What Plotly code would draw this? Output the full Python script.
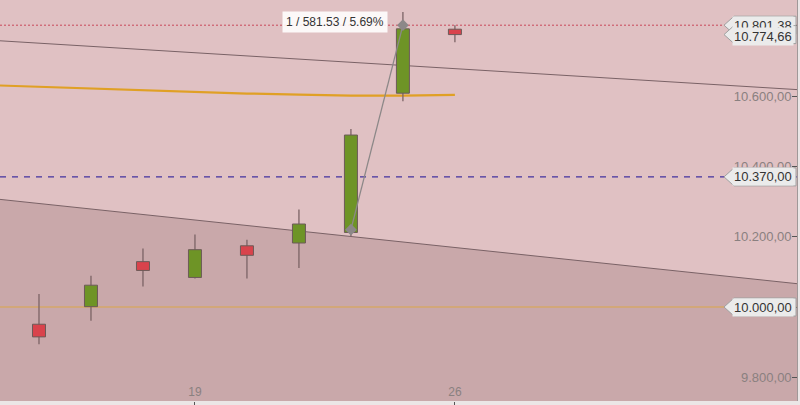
import plotly.graph_objects as go

# ---- data ----
days = ["14", "15", "16", "19", "20", "21", "22", "23", "26"]
opens = [9951, 10001, 10129, 10084, 10174, 10182, 10212, 10608, 10790]
highs = [10037, 10089, 10166, 10206, 10191, 10277, 10506, 10839, 10801.38]
lows = [9894, 9961, 10058, 10081, 10081, 10111, 10201, 10585, 10753]
closes = [9915, 10062, 10104, 10163, 10147, 10236, 10489, 10791, 10774.66]

ma_x = [-1, 0, 1, 2, 3, 4, 5, 6, 7, 8]
ma_vals = [10631, 10626, 10620, 10615, 10611, 10607, 10604, 10601, 10601, 10603]

upper_trend_x = [-0.75, 14.6]
upper_trend_y = [10757, 10618]
lower_trend_x = [-0.75, 14.6]
lower_trend_y = [10306, 10066]

level_high = 10801.38
level_last = 10774.66
level_blue = 10370.00
level_round = 10000.00

measure_x = [6, 7]
measure_y = [10219.85, 10801.38]
measure_text = "1 / 581.53 / 5.69%"

y_ticks = [9800, 10000, 10200, 10400, 10600, 10800]
x_tick_vals = [3, 8]
x_tick_text = ["19", "26"]


def eu(v):
    s = f"{v:,.2f}"
    return s.replace(",", "X").replace(".", ",").replace("X", ".")


X_RANGE = [-0.75, 14.58]
Y_RANGE = [9732.7, 10873]
BODY_HALF = 0.125

fig = go.Figure()

# lower shaded channel area
fig.add_trace(go.Scatter(x=lower_trend_x, y=lower_trend_y, mode="lines",
                         line=dict(color="#7a6266", width=1),
                         fill="tozeroy", fillcolor="#c9a8aa", hoverinfo="skip"))
fig.add_trace(go.Scatter(x=upper_trend_x, y=upper_trend_y, mode="lines",
                         line=dict(color="#7a6266", width=1), hoverinfo="skip"))

# horizontal levels
fig.add_trace(go.Scatter(x=[X_RANGE[0], X_RANGE[1]], y=[level_round] * 2, mode="lines",
                         line=dict(color="#dca548", width=1.2)))
fig.add_trace(go.Scatter(x=[X_RANGE[0], X_RANGE[1]], y=[level_blue] * 2, mode="lines",
                         line=dict(color="#4232a0", width=1.2, dash="6px,6px")))
fig.add_trace(go.Scatter(x=[X_RANGE[0], X_RANGE[1]], y=[level_high] * 2, mode="lines",
                         line=dict(color="#c8485a", width=1, dash="2px,2px")))

# moving average
fig.add_trace(go.Scatter(x=ma_x, y=ma_vals, mode="lines",
                         line=dict(color="#e0a025", width=2.2)))

# wicks
wx, wy = [], []
for i in range(len(days)):
    wx += [i, i, None]
    wy += [lows[i], highs[i], None]
fig.add_trace(go.Scatter(x=wx, y=wy, mode="lines",
                         line=dict(color="#7b6365", width=1.3)))

# bodies (closed polygons built from open/close values)
for up, col in [(True, "#6e9426"), (False, "#d9434c")]:
    bx, by = [], []
    for i in range(len(days)):
        if (closes[i] >= opens[i]) == up:
            o, c = opens[i], closes[i]
            bx += [i - BODY_HALF, i + BODY_HALF, i + BODY_HALF, i - BODY_HALF, i - BODY_HALF, None]
            by += [o, o, c, c, o, None]
    fig.add_trace(go.Scatter(x=bx, y=by, mode="lines", fill="toself", fillcolor=col,
                             line=dict(color="#6c5a58", width=1)))

# measurement tool
fig.add_trace(go.Scatter(x=measure_x, y=measure_y, mode="lines+markers",
                         line=dict(color="#8c8888", width=1.3),
                         marker=dict(symbol="diamond", size=9, color="#8c8888")))
fig.add_annotation(x=measure_x[1], y=measure_y[1], text=measure_text, showarrow=False,
                   xanchor="right", yanchor="middle", xshift=-15, yshift=3,
                   bgcolor="rgba(255,255,255,0.88)", borderpad=3,
                   font=dict(size=12, color="#333333", family="Arial, Liberation Sans"))

# price labels on right axis
for val in [level_high, level_last, level_blue, level_round]:
    fig.add_shape(type="path", xref="paper", yref="y", xsizemode="pixel", ysizemode="pixel",
                  xanchor=1, yanchor=val,
                  path="M-73,0 L-63,-9 L-1,-9 L-1,9 L-63,9 Z",
                  fillcolor="#ebebeb", line=dict(color="#a0a0a0", width=1), layer="above")
    fig.add_annotation(x=1, xref="paper", y=val, text=eu(val), showarrow=False,
                       xanchor="right", yanchor="middle", xshift=-3,
                       yshift=-2 if val == level_last else 0,
                       bgcolor="#ebebeb", borderpad=1,
                       font=dict(size=13, color="#333333", family="Arial, Liberation Sans"))

fig.update_layout(
    width=800, height=405,
    margin=dict(l=0, r=3, t=0, b=4, autoexpand=False),
    plot_bgcolor="#e0c1c3",
    paper_bgcolor="#ebe6e6",
    showlegend=False,
    font=dict(family="Arial, Liberation Sans"),
)
fig.update_xaxes(range=X_RANGE, showgrid=False, zeroline=False,
                 tickvals=x_tick_vals, ticktext=x_tick_text,
                 ticklabelposition="inside", ticks="outside", ticklen=4, tickcolor="#555555",
                 tickfont=dict(size=12, color="#8a8080"))
fig.update_yaxes(range=Y_RANGE, side="right", showgrid=False, zeroline=False,
                 tickvals=y_ticks, ticktext=[eu(v) for v in y_ticks],
                 ticklabelposition="inside", ticks="inside", ticklen=5, tickcolor="#555555",
                 tickfont=dict(size=13, color="#8a8080"),
                 showline=True, linecolor="#a09898", linewidth=1)

fig.write_html("out.html", config={"displayModeBar": False},
               post_script="document.body.style.margin='0px';")
